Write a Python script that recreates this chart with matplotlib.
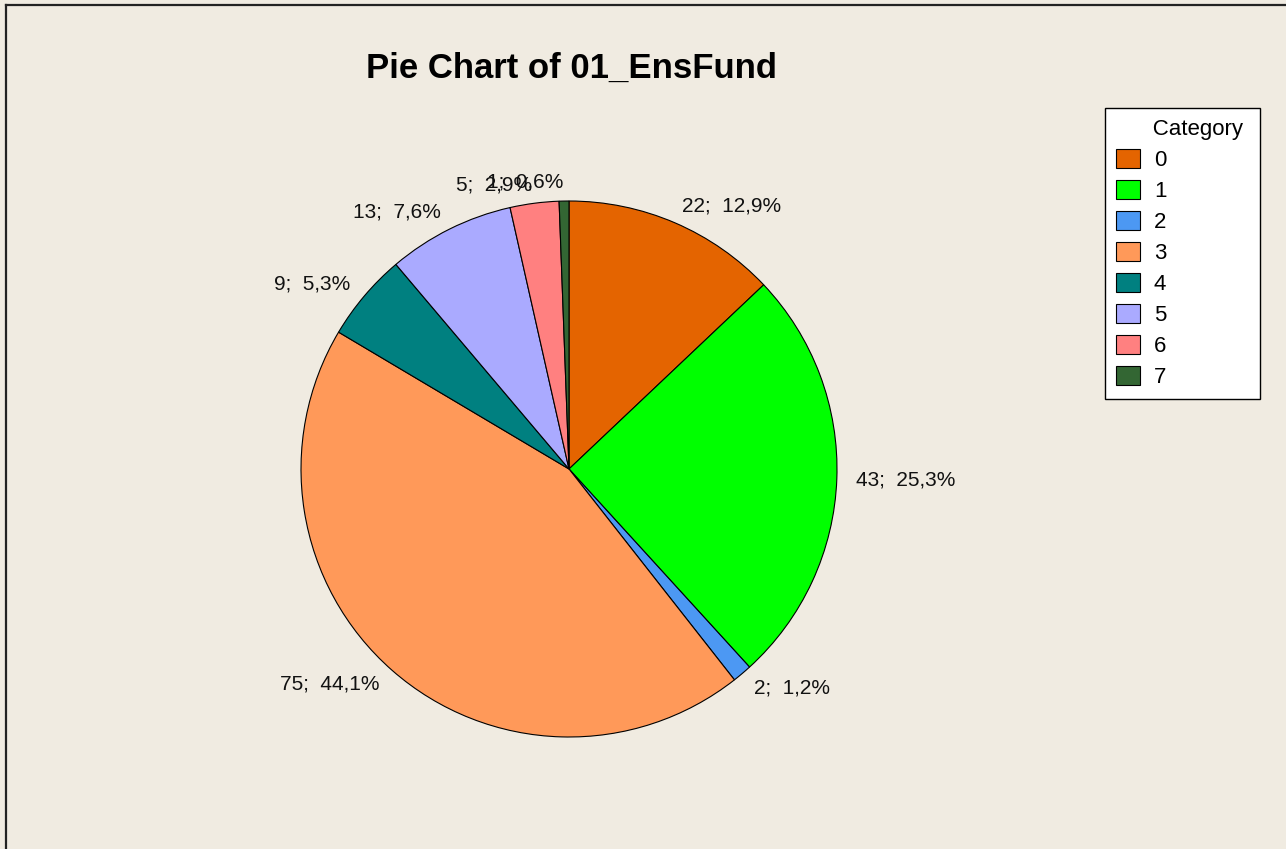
import numpy as np
import matplotlib.pyplot as plt
from matplotlib.lines import Line2D

categories = ["0", "1", "2", "3", "4", "5", "6", "7"]
counts = [22, 43, 2, 75, 9, 13, 5, 1]
colors = ["#E46400", "#00FF00", "#4C98F3", "#FF9959",
          "#008080", "#AAAAFF", "#FF8080", "#336633"]
title = "Pie Chart of 01_EnsFund"

bg = "#F0EBE1"
W, H = 1286, 849

total = sum(counts)
labels = [f"{c};  {100 * c / total:.1f}%".replace(".", ",") for c in counts]

plt.rcParams["font.family"] = ["Liberation Sans", "DejaVu Sans"]

fig = plt.figure(figsize=(W / 100, H / 100), dpi=100, facecolor=bg)
ax = fig.add_axes([0, 0, 1, 1])
ax.set_facecolor(bg)

wedges, texts = ax.pie(
    counts,
    labels=labels,
    colors=colors,
    startangle=90,
    counterclock=False,
    radius=268,
    center=(569, H - 469),
    labeldistance=1.07,
    wedgeprops=dict(edgecolor="black", linewidth=0.8),
    textprops=dict(fontsize=15, color="#111111"),
)

# labels on the left half hang to the left of their anchor
for w, t in zip(wedges, texts):
    mid = np.deg2rad((w.theta1 + w.theta2) / 2)
    t.set_ha("right" if np.cos(mid) < 0 else "left")

ax.set_xlim(0, W)
ax.set_ylim(0, H)
ax.set_aspect("equal")
ax.axis("off")

fig.text(571 / W, 1 - 68 / H, title, ha="center", va="center",
         fontsize=25, fontweight="bold")

leg = fig.legend(
    wedges, categories,
    title="      Category ",
    alignment="left",
    loc="upper right",
    bbox_to_anchor=(1260 / W, 1 - 108 / H),
    bbox_transform=fig.transFigure,
    borderaxespad=0,
    fontsize=16,
    title_fontsize=16,
    frameon=True,
    fancybox=False,
    edgecolor="black",
    facecolor="white",
    framealpha=1,
    handlelength=1.08,
    handleheight=1.0,
    handletextpad=0.63,
    labelspacing=0.38,
    borderpad=0.5,
)
leg.get_frame().set_linewidth(1.0)

# outer border (top and left edges visible)
fig.add_artist(Line2D([6 / W, 1], [1 - 5 / H, 1 - 5 / H], color="#222222", lw=1.6))
fig.add_artist(Line2D([6 / W, 6 / W], [0, 1 - 5 / H], color="#222222", lw=1.6))

fig.savefig("out.png", dpi=100, facecolor=bg)
